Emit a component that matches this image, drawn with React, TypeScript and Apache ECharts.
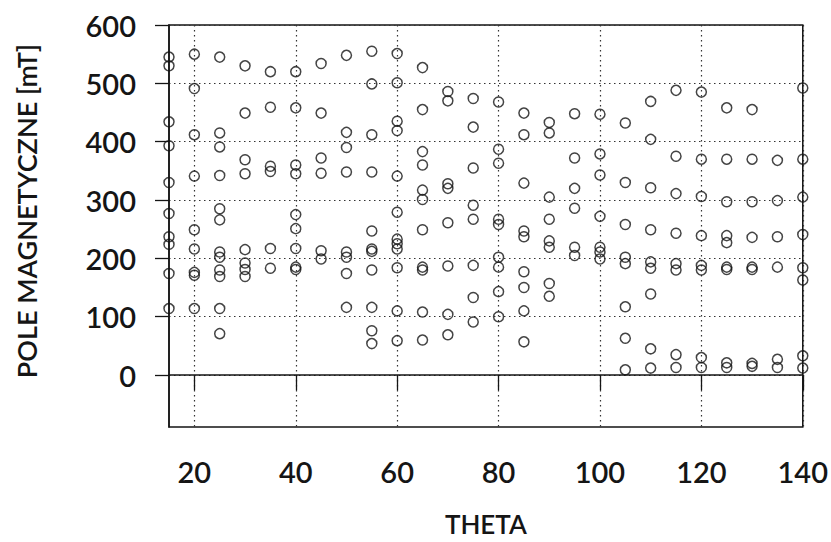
import React, { useEffect, useRef } from "react";
import * as echarts from "echarts";

// Scan angle (degrees) for each column of measurements
const thetaValues = [
  15, 20, 25, 30, 35, 40, 45, 50, 55, 60, 65, 70, 75,
  80, 85, 90, 95, 100, 105, 110, 115, 120, 125, 130, 135, 140,
];

// Resonance field readings [mT] recorded at each angle above
const fieldReadings: number[][] = [
  [545, 530, 434, 393, 330, 277, 237, 224, 174, 114],
  [550, 491, 412, 341, 249, 216, 176, 171, 114],
  [545, 415, 391, 342, 285, 266, 211, 202, 180, 169, 114, 71],
  [530, 449, 369, 345, 215, 192, 181, 169],
  [520, 459, 358, 349, 217, 183],
  [520, 458, 360, 345, 275, 251, 217, 185, 181],
  [534, 449, 372, 346, 213, 199],
  [548, 416, 390, 348, 211, 202, 174, 116],
  [555, 499, 412, 348, 247, 216, 212, 180, 116, 76, 54],
  [551, 501, 435, 419, 341, 279, 233, 225, 216, 184, 110, 59],
  [527, 455, 383, 360, 317, 301, 249, 185, 180, 108, 60],
  [486, 470, 328, 320, 261, 187, 104, 69],
  [474, 425, 355, 291, 267, 188, 133, 91],
  [468, 387, 363, 267, 258, 202, 185, 143, 100],
  [449, 412, 329, 247, 237, 177, 150, 110, 57],
  [433, 415, 305, 267, 230, 219, 157, 135],
  [448, 372, 320, 286, 219, 205],
  [447, 379, 343, 272, 219, 211, 199],
  [432, 330, 258, 202, 191, 117, 63, 9],
  [469, 404, 321, 249, 194, 183, 139, 45, 12],
  [488, 375, 311, 243, 191, 180, 35, 13],
  [485, 370, 306, 239, 188, 180, 30, 13],
  [458, 370, 297, 239, 227, 185, 181, 21, 13],
  [455, 370, 297, 236, 185, 181, 20, 15],
  [368, 299, 237, 185, 27, 13],
  [492, 370, 305, 241, 184, 163, 33, 12],
];

const xTicks = [20, 40, 60, 80, 100, 120, 140];
const yTicks = [0, 100, 200, 300, 400, 500, 600];

const FONT = "Lato, 'Open Sans', sans-serif";
const INK = "#151515";

export default function App() {
  const ref = useRef<HTMLDivElement>(null);

  useEffect(() => {
    if (!ref.current) return;
    const chart = echarts.init(ref.current, null, { renderer: "svg" });

    const points: [number, number][] = [];
    thetaValues.forEach((theta, i) => {
      fieldReadings[i].forEach((b) => points.push([theta, b]));
    });

    const dotted = { color: "#333", width: 1.2, type: [1.5, 3.5] as number[] };

    chart.setOption({
      animation: false,
      backgroundColor: "#fff",
      grid: {
        left: 169,
        right: 26,
        top: 25,
        bottom: 107,
        show: true,
        borderColor: INK,
        borderWidth: 1.5,
        backgroundColor: "transparent",
      },
      xAxis: {
        type: "value",
        min: 15,
        max: 140,
        name: "THETA",
        nameLocation: "middle",
        nameGap: 84,
        nameTextStyle: { fontFamily: FONT, fontSize: 26, fontWeight: 600, color: INK },
        axisLine: { show: true, lineStyle: { color: INK, width: 1.5 } },
        axisTick: {
          show: true,
          inside: false,
          length: 15,
          customValues: xTicks,
          lineStyle: { color: INK, width: 1.3 },
        },
        axisLabel: {
          customValues: xTicks,
          margin: 30,
          fontFamily: FONT,
          fontSize: 29,
          fontWeight: 600,
          color: INK,
        },
        splitLine: { show: true, lineStyle: dotted },
      },
      yAxis: {
        type: "value",
        min: -89,
        max: 600,
        axisLine: { show: true, lineStyle: { color: INK, width: 1.5 } },
        axisTick: {
          show: true,
          inside: false,
          length: 14,
          customValues: yTicks,
          lineStyle: { color: INK, width: 1.3 },
        },
        axisLabel: {
          customValues: yTicks,
          margin: 33,
          fontFamily: FONT,
          fontSize: 29,
          fontWeight: 600,
          color: INK,
        },
        splitLine: { show: true, lineStyle: dotted },
      },
      graphic: [
        {
          type: "text",
          x: 26,
          y: 211,
          rotation: Math.PI / 2,
          style: {
            text: "POLE MAGNETYCZNE [mT]",
            fontFamily: FONT,
            fontSize: 27,
            fontWeight: 600,
            fill: INK,
            textAlign: "center",
            textVerticalAlign: "middle",
          },
        },
      ],
      series: [
        {
          type: "scatter",
          data: points,
          symbol: "circle",
          symbolSize: 10,
          itemStyle: {
            color: "rgba(255,255,255,0)",
            borderColor: INK,
            borderWidth: 1.5,
          },
          z: 5,
        },
      ],
    });

    return () => chart.dispose();
  }, []);

  return <div ref={ref} style={{ width: 831, height: 542, position: "absolute", left: 0, top: 0 }} />;
}
